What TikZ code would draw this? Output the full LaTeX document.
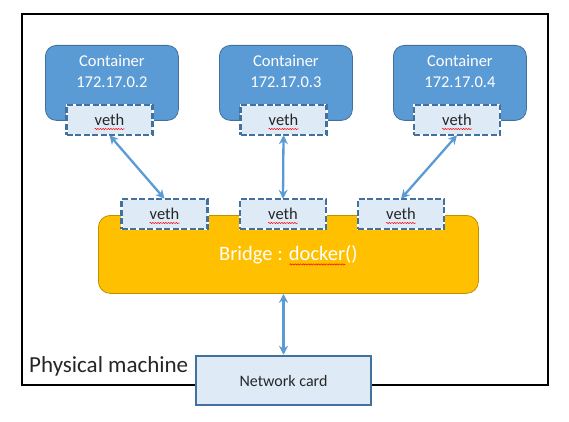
\documentclass[tikz,border=0pt]{standalone}
\usepackage{fontspec}
\setmainfont{Carlito}
\usetikzlibrary{arrows.meta,decorations.pathmorphing,calc}
\definecolor{cblue}{HTML}{5B9BD5}
\definecolor{dblue}{HTML}{41719C}
\definecolor{lblue}{HTML}{DEEBF7}
\definecolor{bridgey}{HTML}{FFC000}
\definecolor{bridgeb}{HTML}{BF9000}
\definecolor{txt}{HTML}{262626}
\tikzset{
  container/.style={draw=dblue, line width=0.8pt, fill=cblue, rounded corners=11pt,
    minimum width=133pt, minimum height=75pt, anchor=north west},
  ctext/.style={text=white, font=\fontsize{16.5}{21}\selectfont, align=center},
  vethbox/.style={fill=lblue, minimum width=86pt, minimum height=30pt, text=txt,
    font=\fontsize{16.5}{18}\selectfont, inner sep=0pt,
    postaction={draw=white, line width=2pt},
    postaction={draw=dblue, line width=2.4pt, dash pattern=on 6pt off 2.5pt}},
  bridgebox/.style={draw=bridgeb, line width=0.8pt, fill=bridgey, rounded corners=12pt,
    minimum width=380pt, minimum height=78pt, anchor=north west, text=white,
    font=\fontsize{20.5}{22}\selectfont},
  netbox/.style={draw=dblue, line width=2.5pt, fill=lblue, minimum width=175pt,
    minimum height=49pt, text=txt, font=\fontsize{16}{18}\selectfont},
  link/.style={draw=cblue, line width=2.3pt, {Stealth[length=9pt,width=9pt]}-{Stealth[length=9pt,width=9pt]}},
  squiggle/.style={draw=red, line width=0.5pt, decorate, decoration={snake, amplitude=0.6pt, segment length=2.6pt}},
  outer/.style={draw=black, line width=1.2pt}
}
\begin{document}
\begin{tikzpicture}[x=1pt,y=-1pt]
\useasboundingbox (0,0) rectangle (569,422);
\fill[white] (0,0) rectangle (569,422);
\draw[outer] (22,14) rectangle (548,385);
\node[anchor=west, text=txt, font=\fontsize{23}{25}\selectfont, inner sep=0pt] (pm) at (29,366) {Physical machine};

% containers
\node[container] (c1) at (45,45) {};
\node[container] (c2) at (219,45) {};
\node[container] (c3) at (393,45) {};
\node[ctext, anchor=north] (t1) at ($(c1.north)+(0,7)$) {Container\\172.17.0.2};
\node[ctext, anchor=north] (t2) at ($(c2.north)+(0,7)$) {Container\\172.17.0.3};
\node[ctext, anchor=north] (t3) at ($(c3.north)+(0,7)$) {Container\\172.17.0.4};

\node[vethbox] (v1) at (109.5,120) {veth};
\node[vethbox] (v2) at (283.5,120) {veth};
\node[vethbox] (v3) at (457,120) {veth};

% bridge
\node[bridgebox] (br) at (98,215) {Bridge : docker()};
\node[vethbox] (b1) at (164.5,214) {veth};
\node[vethbox] (b2) at (283,214) {veth};
\node[vethbox] (b3) at (401,214) {veth};

% network card
\node[netbox] (net) at (283.5,380.5) {Network card};

% spell-check squiggles
\foreach \n in {v1,v2,v3,b1,b2,b3}{
  \draw[squiggle] ($(\n.center)+(-15,9)$) -- ++(30,0);
}
\draw[squiggle] ($(br.center)+(1,10)$) -- ++(56,0);

% links
\draw[link] (v1.south) -- (b1.north);
\draw[link] (v2.south) -- (b2.north);
\draw[link] (v3.south) -- (b3.north);
\draw[link] (net.north |- br.south) -- (net.north);
\end{tikzpicture}
\end{document}
